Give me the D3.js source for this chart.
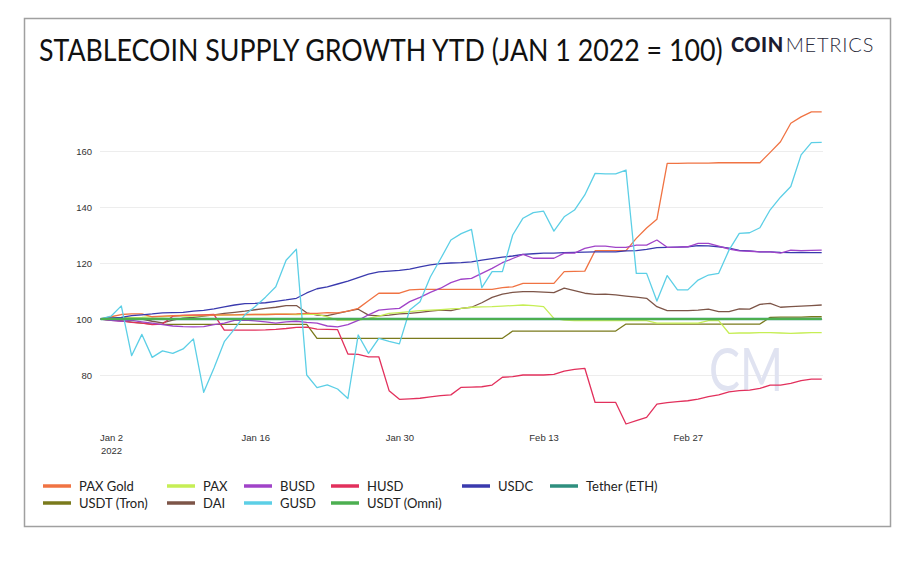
<!DOCTYPE html>
<html>
<head>
<meta charset="utf-8">
<script src="https://cdn.jsdelivr.net/npm/d3@7/dist/d3.min.js"></script>
<style>
  html, body { margin: 0; padding: 0; background: #ffffff; }
  svg { display: block; }
</style>
</head>
<body>
<svg id="chart" width="914" height="563"></svg>
<script>
// ---------------- DATA ----------------
const startDate = "2022-01-01";   // daily values, Jan 1 .. Mar 12, 2022
const seriesNames = ["PAX Gold","PAX","BUSD","HUSD","USDC","Tether (ETH)","USDT (Tron)","DAI","GUSD","USDT (Omni)"];
const seriesColors = ["#f07343","#c6ee55","#a043c8","#e2305c","#3a3aae","#2e8f7e","#7a7a1c","#7d5548","#5ccfe6","#4caf50"];
const yTicks = [80, 100, 120, 140, 160];
const xTickDates = ["2022-01-02","2022-01-16","2022-01-30","2022-02-13","2022-02-27"];
const xTickLabels = ["Jan 2","Jan 16","Jan 30","Feb 13","Feb 27"];

const paxGold = [100,100.8,101.6,101.8,101.8,100.8,101,101.2,101.3,101.4,
  101.4,101.5,101.5,101.5,101.6,101.6,101.6,101.7,101.7,101.8,
  102,102,102.3,102.2,102.8,103.8,106.5,109.2,109.2,109.2,
  110.4,110.6,110.6,110.6,110.6,110.6,110.6,110.6,110.6,111.2,
  111.5,112.7,112.7,112.7,112.7,116.9,117,117.1,124.4,124.4,
  124.4,124.4,128.8,132.5,135.6,155.6,155.6,155.7,155.7,155.7,
  155.8,155.8,155.8,155.8,155.8,159.5,163.3,169.9,172.2,174,174];
const pax = [100,100.2,100.4,100.5,100.6,100.8,100.8,101,101,101,
  101.2,101.3,101.4,101.5,101.5,101.6,101.6,101.7,101.7,101.6,
  101.7,101.7,100.8,99.6,99.6,99.6,100.2,101,102,102.3,
  102.6,103,103.2,103.3,103.6,103.8,104.2,104.3,104.4,104.6,
  104.8,105,104.8,104.4,100.2,99.6,99.4,99.4,99.4,99.4,
  99.4,99.4,99.4,99.4,98.5,98.5,98.5,98.5,98.5,99.4,
  99.4,94.9,95,95,95.1,95.1,95,94.9,95,95.1,95.1];
const busd = [100,99.5,99.2,99.5,99,98.5,98,97.5,97.3,97.2,
  97.3,98,98.5,99.5,99.6,99.3,99,98.5,99,99.2,
  98.8,98.5,97.5,97.2,98,99.5,101.5,103.2,103.5,103.8,
  106.2,107.7,109.5,111,113,114.2,114.5,116.3,118.1,120.1,
  121.6,123.1,121.7,121.7,121.7,123.5,123.5,125.2,126,126,
  125.6,125.6,126.4,126.4,128.2,125.6,125.7,125.8,127,127,
  126,125,124.3,124.2,124,124,123.5,124.6,124.4,124.5,124.6];
const husd = [100,99.5,99.3,98.8,98.5,98,98.2,101,101.3,101.4,
  101.5,101.6,96,96,96,96,96.1,96.3,96.6,97,
  97.1,96.4,96.3,96.2,87.5,87.4,86.5,86.5,74.4,71.3,
  71.5,71.7,72.2,72.6,72.9,75.6,75.7,75.8,76.4,79.2,
  79.4,80,80,80,80.2,81.4,82,82.4,70.2,70.2,
  70.2,62.5,63.7,64.9,69.6,70.1,70.5,70.8,71.4,72.3,
  72.9,74,74.4,74.6,75.2,76.4,76.4,77,78,78.5,78.5];
const usdc = [100,100.3,100.6,101.2,101.5,101.8,102.2,102.3,102.4,102.8,
  103.1,103.6,104.3,105,105.5,105.6,105.8,106.3,106.8,107.4,
  109.3,110.8,111.5,112.5,113.5,114.8,116,116.8,117.1,117.4,
  117.8,118.6,119.3,119.8,120,120.1,120.4,121,121.6,122.1,
  122.5,123.1,123.3,123.5,123.5,123.7,123.8,123.9,124,124,
  124,124.3,124.4,124.9,125.5,125.6,125.7,125.8,126.2,126.1,
  125.8,125.3,124.5,124.3,124,124,123.8,123.7,123.8,123.7,123.7];
const tetherEth = [100,100,100,100,100,100,100,100,100,100,
  100,100,100,100,100,100,100,100,100,100,
  100,100,100,100,100,100,100,100,100,100,
  100,100,100,100,100,100,100,100,100,100,
  100,100,100,100,100,100,100,100,100,100,
  100,100,100,100,100,100,100,100,100,100,
  100,100,100,100,100,100,100,100,100,100,100];
const usdtTron = [100,99.7,99.3,98.9,98.5,98.2,98.1,98.1,98.1,98.1,
  98.1,98.1,98.1,98.1,98.1,98.1,98.1,98.1,98.1,98.1,
  98.1,93.1,93.1,93.1,93.1,93.1,93.1,93.1,93.1,93.1,
  93.1,93.1,93.1,93.1,93.1,93.1,93.1,93.1,93.1,93.1,
  95.7,95.7,95.7,95.7,95.7,95.7,95.7,95.7,95.7,95.7,
  95.7,98.2,98.2,98.2,98.2,98.2,98.2,98.2,98.2,98.2,
  98.2,98.2,98.2,98.2,98.2,100.6,100.7,100.7,100.7,100.8,100.8];
const dai = [100,100.3,100.5,100.3,100,99.2,98.6,99.6,100.3,100.6,
  101,101.5,102,102.4,102.8,103.3,103.8,104.2,104.8,104.8,
  102.2,101.4,101.2,102,102.8,103.5,101.4,101.1,101.4,101.8,
  102,102.4,102.8,103.2,103,103.8,104.2,105.8,107.7,108.9,
  109.5,109.8,109.8,109.6,109.4,111,110.1,109.2,108.8,108.9,
  108.6,108.2,107.8,107.4,104.4,103,103,103,103.2,103.5,
  102.6,102.6,103.6,103.5,105.2,105.6,104.2,104.4,104.6,104.8,105];
const gusd = [100,101,104.7,86.9,94.5,86.3,88.6,87.7,89.3,92.9,
  73.8,82.5,91.9,96.5,101.5,104.5,107.8,111.5,121,124.9,
  80,75.5,76.5,75,71.6,94.3,87.7,93.1,92,91.1,
  103.2,106.2,115,121.5,128.2,130.5,132,111.2,116.9,116.9,
  130,136,138,138.5,131.4,136.5,138.9,144.3,152,151.8,
  151.8,153.2,116.3,116.3,106.4,115.5,110.4,110.4,113.9,115.7,
  116.3,124.6,130.6,130.8,132.6,139,143.5,147.3,158.6,163,163.1];
const usdtOmni = [100,100,100,100,100,100,100,100,100,100,
  100,100,100,100,100,100,100,100,100,100,
  100,100,100,100,100,100,100,100,100,100,
  100,100,100,100,100,100,100,100,100,100,
  100,100,100,100,100,100,100,100,100,100,
  100,100,100,100,100,100,100,100,100,100,
  100,100,100,100,100,100,100,100,100,100,100];

// ---------------- CHART ----------------
const seriesValues = [paxGold, pax, busd, husd, usdc, tetherEth, usdtTron, dai, gusd, usdtOmni];
const parse = d3.utcParse("%Y-%m-%d");
const t0 = parse(startDate);
const dates = paxGold.map((_, i) => d3.utcDay.offset(t0, i));

const svg = d3.select("#chart");
svg.append("rect").attr("width", 914).attr("height", 563).attr("fill", "#ffffff");
svg.append("rect").attr("x", 24.5).attr("y", 18.5).attr("width", 866).attr("height", 508)
  .attr("fill", "#ffffff").attr("stroke", "#a0a0a0").attr("stroke-width", 1.5);

// Title (horizontally condensed to the reference width)
const titleX = 39, titleW = 684;
const title = svg.append("text").attr("x", 0).attr("y", 0)
  .attr("font-family", "Lato, 'Open Sans', sans-serif").attr("font-size", 30)
  .attr("fill", "#111111")
  .text("STABLECOIN SUPPLY GROWTH YTD (JAN 1 2022 = 100)");
const natW = title.node().getComputedTextLength();
title.attr("transform", `translate(${titleX},61) scale(${titleW / natW},1)`);

const coin = svg.append("text").attr("x", 731).attr("y", 52)
  .attr("font-family", "Lato, sans-serif").attr("font-size", 20).attr("font-weight", 900)
  .attr("letter-spacing", 0.5).attr("fill", "#1b1b2f").text("COIN");
const coinW = coin.node().getComputedTextLength();
svg.append("text").attr("x", 731 + coinW + 2).attr("y", 52)
  .attr("font-family", "Lato, sans-serif").attr("font-size", 20).attr("font-weight", 300)
  .attr("letter-spacing", 0.8).attr("fill", "#2a2a3a").text("METRICS");

const x = d3.scaleUtc().domain([dates[0], dates[dates.length - 1]]).range([100.7, 821.7]);
const y = d3.scaleLinear().domain([60, 180]).range([431, 95]);

// gridlines
svg.append("g").selectAll("line").data(yTicks).join("line")
  .attr("x1", 100).attr("x2", 823)
  .attr("y1", d => y(d) + 0.5).attr("y2", d => y(d) + 0.5)
  .attr("stroke", "#ededed").attr("stroke-width", 1);

// y axis
const yAxis = d3.axisLeft(y).tickValues(yTicks).tickSize(0).tickPadding(0);
const gy = svg.append("g").attr("transform", "translate(92,0)").call(yAxis);
gy.select(".domain").remove();
gy.selectAll("text").attr("font-family", "'Liberation Sans', Arial, sans-serif")
  .attr("font-size", 9.5).attr("fill", "#333333");

// x axis
const xAxis = d3.axisBottom(x).tickValues(xTickDates.map(parse))
  .tickFormat((d, i) => xTickLabels[i]).tickSize(0).tickPadding(0);
const gx = svg.append("g").attr("transform", "translate(0,434)").call(xAxis);
gx.select(".domain").remove();
gx.selectAll("text").attr("font-family", "'Liberation Sans', Arial, sans-serif")
  .attr("font-size", 9.5).attr("fill", "#333333");
gx.selectAll(".tick").filter((d, i) => i === 0).append("text")
  .attr("y", 20).attr("text-anchor", "middle")
  .attr("font-family", "'Liberation Sans', Arial, sans-serif")
  .attr("font-size", 9.5).attr("fill", "#333333").text("2022");

// watermark
const wm = svg.append("text").attr("x", 0).attr("y", 0)
  .attr("font-family", "Lato, sans-serif").attr("font-size", 60).attr("font-weight", 400)
  .attr("fill", "#e0e3f1").text("CM");
const wmW = wm.node().getComputedTextLength();
wm.attr("transform", `translate(709,391) scale(${74 / wmW},1)`);

// lines
const line = d3.line().x((d, i) => x(dates[i])).y(d => y(d));
const drawOrder = [6, 7, 1, 3, 0, 4, 2, 8, 5, 9];
const widths = {5: 2.6, 9: 2};
const g = svg.append("g").attr("fill", "none");
drawOrder.forEach(k => {
  g.append("path").datum(seriesValues[k]).attr("d", line)
    .attr("stroke", seriesColors[k]).attr("stroke-width", widths[k] || 1.3)
    .attr("stroke-linejoin", "round");
});

// legend
const legendCols = [79, 203, 280, 367, 498, 586];
const legendPos = [[0,0],[1,0],[2,0],[3,0],[4,0],[5,0],[0,1],[1,1],[2,1],[3,1]];
const rowY = [486, 503];
const lg = svg.append("g");
seriesNames.forEach((name, i) => {
  const [c, r] = legendPos[i];
  const tx = legendCols[c], ty = rowY[r];
  lg.append("line").attr("x1", tx - 36).attr("x2", tx - 8).attr("y1", ty).attr("y2", ty)
    .attr("stroke", seriesColors[i]).attr("stroke-width", 3.5);
  lg.append("text").attr("x", tx).attr("y", ty + 4.6)
    .attr("font-family", "Lato, sans-serif").attr("font-size", 13).attr("fill", "#222222")
    .text(name);
});
</script>
</body>
</html>
